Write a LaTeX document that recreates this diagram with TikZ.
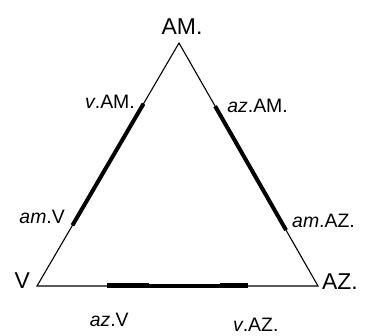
\documentclass[tikz,border=0pt]{standalone}
\usepackage{fontspec}
\setmainfont{Liberation Sans}
\usetikzlibrary{positioning,calc}
\tikzset{
  vertex/.style = {inner sep=0pt, font=\fontsize{23}{23}\selectfont},
  tag/.style    = {inner sep=0pt, font=\fontsize{19.5}{19.5}\selectfont},
  side/.style   = {line width=1.1bp, line join=miter},
  heavy/.style  = {line width=4bp},
}
\begin{document}
\begin{tikzpicture}[x=1bp, y=1bp]
\useasboundingbox (0,0) rectangle (365,336);
\coordinate (V)  at (37,50);
\coordinate (AM) at (179,293);
\coordinate (AZ) at (318,50);
\draw[side] (V) -- (AM) -- (AZ) -- cycle;
% marked stretches, a quarter to three quarters along each side
\coordinate (amV)  at ($(V)!0.25!(AM)$);
\coordinate (vAM)  at ($(V)!0.75!(AM)$);
\coordinate (amAZ) at ($(AZ)!0.23!(AM)$);
\coordinate (azAM) at ($(AZ)!0.74!(AM)$);
\coordinate (azV)  at ($(V)!0.25!(AZ)$);
\coordinate (vAZ)  at ($(V)!0.75!(AZ)$);
\coordinate (bl) at ($(V)!0.40!(AZ)$);
\coordinate (br) at ($(V)!0.65!(AZ)$);
\draw[heavy] (amV) -- (vAM);
\draw[heavy] (amAZ) -- (azAM);
\draw[heavy, line width=5bp, yshift=-2.7bp] (azV) -- (bl);
\draw[heavy, line width=3.5bp, yshift=-2bp] (bl) -- (br);
\draw[heavy, line width=5bp, yshift=-2.7bp] (br) -- (vAZ);
% vertex names
\node[vertex, above=8bp of AM, xshift=3bp] (lAM) {AM.};
\node[vertex, left=7bp of V, yshift=5bp] (lV) {V};
\node[vertex, right=4bp of AZ, yshift=4.5bp] (lAZ) {AZ.};
% stretch names
\node[tag, left=8.5bp of vAM, yshift=2bp] (tvAM) {\textit{v}.AM.};
\node[tag, left=7.5bp of amV, yshift=8bp] (tamV) {\textit{am}.V};
\node[tag, right=12bp of azAM] (tazAM) {\textit{az}.AM.};
\node[tag, right=6bp of amAZ, yshift=9.5bp] (tamAZ) {\textit{am}.AZ.};
\node[tag, below=27bp of azV, xshift=2bp] (tazV) {\textit{az}.V};
\node[tag, below=32bp of vAZ, xshift=8bp] (tvAZ) {\textit{v}.AZ.};
\end{tikzpicture}
\end{document}
